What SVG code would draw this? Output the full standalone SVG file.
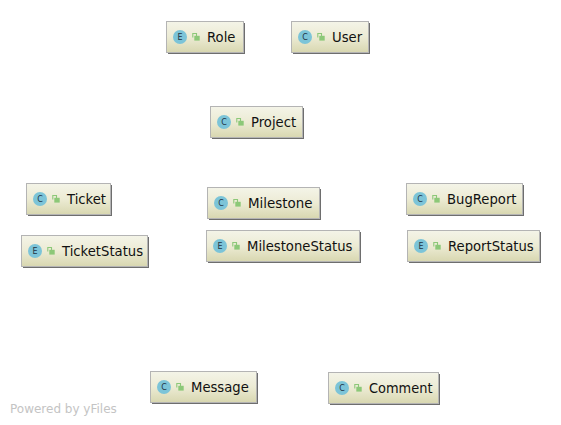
<svg xmlns="http://www.w3.org/2000/svg" xmlns:xlink="http://www.w3.org/1999/xlink" width="561" height="425" viewBox="0 0 561 425">
<defs>
<linearGradient id="g" x1="0" y1="0" x2="0" y2="1"><stop offset="0" stop-color="#f4f4e8"/><stop offset="0.5" stop-color="#ecebd4"/><stop offset="1" stop-color="#d8d7b0"/></linearGradient>
<g id="lock"><path d="M-2.200 0.500V-3.500H1.500V-1" fill="none" stroke="#8cc878" stroke-width="1.100"/><rect x="-0.700" y="-1.200" width="5.400" height="4.800" fill="#8cc878"/></g>
</defs>
<style>
.box{fill:url(#g);stroke:#b4b4b4;stroke-width:1}
.sh{fill:#6e6e6e}
.ic{fill:#7cc4d8}
.k{font:8px "DejaVu Sans",sans-serif;fill:#234;text-anchor:middle}
.t{font:13.200px "DejaVu Sans",sans-serif;fill:#111}
.w{font:12px "DejaVu Sans",sans-serif;fill:#c4c4c4}
</style>
<g id="connectors"/>
<g id="role"><rect class="sh" x="168" y="23" width="77" height="31"/><rect class="box" x="166.500" y="21.500" width="77" height="31"/><circle class="ic" cx="180" cy="37" r="7"/><text class="k" x="180" y="40">E</text><use xlink:href="#lock" x="195" y="37"/><text class="t" x="207" y="42">Role</text></g>
<g id="user"><rect class="sh" x="293" y="23" width="77" height="31"/><rect class="box" x="291.500" y="21.500" width="77" height="31"/><circle class="ic" cx="305" cy="37" r="7"/><text class="k" x="305" y="40">C</text><use xlink:href="#lock" x="320" y="37"/><text class="t" x="332" y="42">User</text></g>
<g id="project"><rect class="sh" x="212" y="108" width="92" height="31"/><rect class="box" x="210.500" y="106.500" width="92" height="31"/><circle class="ic" cx="224" cy="122" r="7"/><text class="k" x="224" y="125">C</text><use xlink:href="#lock" x="239" y="122"/><text class="t" x="251" y="127">Project</text></g>
<g id="ticket"><rect class="sh" x="28" y="185" width="84" height="31"/><rect class="box" x="26.500" y="183.500" width="84" height="31"/><circle class="ic" cx="40" cy="199" r="7"/><text class="k" x="40" y="202">C</text><use xlink:href="#lock" x="55" y="199"/><text class="t" x="67" y="204">Ticket</text></g>
<g id="ticketstatus"><rect class="sh" x="23" y="237" width="126" height="31"/><rect class="box" x="21.500" y="235.500" width="126" height="31"/><circle class="ic" cx="35" cy="251" r="7"/><text class="k" x="35" y="254">E</text><use xlink:href="#lock" x="50" y="251"/><text class="t" x="62" y="256">TicketStatus</text></g>
<g id="milestone"><rect class="sh" x="209" y="189" width="112" height="31"/><rect class="box" x="207.500" y="187.500" width="112" height="31"/><circle class="ic" cx="221" cy="203" r="7"/><text class="k" x="221" y="206">C</text><use xlink:href="#lock" x="236" y="203"/><text class="t" x="248" y="208" textLength="64.500" lengthAdjust="spacingAndGlyphs">Milestone</text></g>
<g id="milestonestatus"><rect class="sh" x="208" y="232" width="153" height="31"/><rect class="box" x="206.500" y="230.500" width="153" height="31"/><circle class="ic" cx="220" cy="246" r="7"/><text class="k" x="220" y="249">E</text><use xlink:href="#lock" x="235" y="246"/><text class="t" x="247" y="251">MilestoneStatus</text></g>
<g id="bugreport"><rect class="sh" x="408" y="185" width="116" height="31"/><rect class="box" x="406.500" y="183.500" width="116" height="31"/><circle class="ic" cx="420" cy="199" r="7"/><text class="k" x="420" y="202">C</text><use xlink:href="#lock" x="435" y="199"/><text class="t" x="447" y="204">BugReport</text></g>
<g id="reportstatus"><rect class="sh" x="409" y="232" width="132" height="31"/><rect class="box" x="407.500" y="230.500" width="132" height="31"/><circle class="ic" cx="421" cy="246" r="7"/><text class="k" x="421" y="249">E</text><use xlink:href="#lock" x="436" y="246"/><text class="t" x="448" y="251">ReportStatus</text></g>
<g id="message"><rect class="sh" x="152" y="373" width="106" height="31"/><rect class="box" x="150.500" y="371.500" width="106" height="31"/><circle class="ic" cx="164" cy="387" r="7"/><text class="k" x="164" y="390">C</text><use xlink:href="#lock" x="179" y="387"/><text class="t" x="191" y="392">Message</text></g>
<g id="comment"><rect class="sh" x="330" y="374" width="110" height="31"/><rect class="box" x="328.500" y="372.500" width="110" height="31"/><circle class="ic" cx="342" cy="388" r="7"/><text class="k" x="342" y="391">C</text><use xlink:href="#lock" x="357" y="388"/><text class="t" x="369" y="393" textLength="63.500" lengthAdjust="spacingAndGlyphs">Comment</text></g>
<text class="w" x="10" y="413">Powered by yFiles</text>
</svg>
